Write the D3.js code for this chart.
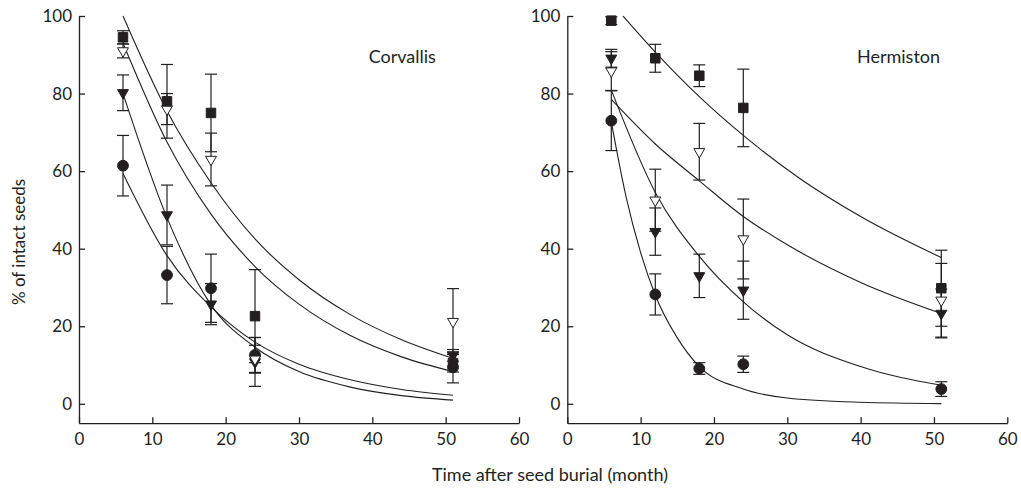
<!DOCTYPE html>
<html>
<head>
<meta charset="utf-8">
<script src="https://cdn.jsdelivr.net/npm/d3@7/dist/d3.min.js"></script>
<style>
    body { margin: 0; background: #fff; }
    text { font-family: Lato, sans-serif; fill: #231f20; }
</style>
</head>
<body>
<div id="chart-area"></div>
<script>
// months after burial where seeds were sampled
const months = [6, 12, 18, 24, 51];
const xTicks = [0, 10, 20, 30, 40, 50, 60];
const yTicks = [0, 20, 40, 60, 80, 100];

// Corvallis: means and error (±) per symbol
const corSquare = [94.5, 78, 75, 22.6, 10.5];
const corSquareErr = [1.7, 9.5, 10, 12, 2.3];
const corOpen = [91, 76, 63, 11.5, 21.2];
const corOpenErr = [1.8, 4, 6.8, 3.6, 8.5];
const corFilled = [80.2, 48.7, 25.7, 10.8, 12.5];
const corFilledErr = [4.6, 7.7, 5.3, 6.3, 1.5];
const corCircle = [61.4, 33.2, 29.8, 12.6, 9.4];
const corCircleErr = [7.8, 7.4, 8.8, 4.5, 4];

// Hermiston: means and error (±) per symbol
const herSquare = [98.8, 89.1, 84.6, 76.3, 29.8];
const herSquareErr = [1, 3.6, 2.8, 10, 9.8];
const herOpen = [85.8, 52.5, 65, 42.5, 26.7];
const herOpenErr = [5, 8, 7.3, 10.3, 9.5];
const herFilled = [89.1, 44.4, 33, 29.3, 23.3];
const herFilledErr = [2.3, 6.1, 5.6, 7.5, 6.3];
const herCircle = [73, 28.2, 9.1, 10.2, 3.8];
const herCircleErr = [7.7, 5.3, 1.5, 2.1, 1.9];

// fitted curves (month, %)
const corSquareFitT = [6, 12, 18, 24, 30, 37, 44, 51];
const corSquareFit = [100, 75.5, 57, 42.5, 32, 23, 16.5, 11.7];
const corOpenFitT = [6, 12, 18, 24, 30, 37, 44, 51];
const corOpenFit = [93, 67.5, 48.9, 35.4, 25.7, 17.6, 12.1, 8.3];
const corFilledFitT = [6, 12, 18, 24, 30, 37, 44, 51];
const corFilledFit = [80, 48, 25.5, 14.6, 8.3, 4.3, 2.1, 0.95];
const corCircleFitT = [6, 12, 18, 24, 30, 37, 44, 51];
const corCircleFit = [59.4, 38.2, 25, 15.9, 10.2, 6.2, 3.7, 2.2];

const herSquareFitT = [7.6, 12, 18, 24, 31.7, 40, 51];
const herSquareFit = [100, 90.7, 79.2, 69.2, 58.1, 48.3, 37.7];
const herOpenFitT = [6, 12, 18, 24, 30, 40, 51];
const herOpenFit = [78.5, 67, 57.5, 48.3, 41, 31.3, 23.3];
const herFilledFitT = [6, 12, 18, 24, 30, 40, 51];
const herFilledFit = [80.9, 54.5, 38, 26.3, 17.8, 9.6, 4.8];
const herCircleFitT = [6, 8, 10, 12, 15, 18, 24, 30, 40, 51];
const herCircleFit = [72.7, 53.5, 39, 28, 17, 9.6, 3.8, 1.5, 0.4, 0.05];

const ink = '#231f20';

const svg = d3.select('#chart-area').append('svg')
    .attr('width', 1021)
    .attr('height', 488);

const y = d3.scaleLinear().domain([-5, 100]).range([423.2, 16]);

function drawPanel(left, title, series, fits) {
    const x = d3.scaleLinear().domain([0, 60]).range([left, left + 440]);
    const g = svg.append('g');

    // axes
    const ax = g.append('g')
        .attr('transform', `translate(0, ${y(-5)})`)
        .call(d3.axisBottom(x).tickValues(xTicks).tickSizeInner(-6).tickSizeOuter(0).tickPadding(10));
    const ay = g.append('g')
        .attr('transform', `translate(${left}, 0)`)
        .call(d3.axisLeft(y).tickValues(yTicks).tickSizeInner(-6).tickSizeOuter(0).tickPadding(7));
    [ax, ay].forEach(a => {
        a.attr('color', ink).attr('font-family', 'Lato, sans-serif').attr('font-size', 17);
        a.selectAll('path, line').attr('stroke-width', 1.3);
    });

    // fitted curves
    const line = d3.line()
        .x(d => x(d[0]))
        .y(d => y(d[1]))
        .curve(d3.curveMonotoneX);
    fits.forEach(f => {
        g.append('path')
            .datum(f.t.map((t, i) => [t, f.v[i]]))
            .attr('d', line)
            .attr('fill', 'none')
            .attr('stroke', ink)
            .attr('stroke-width', 1.1);
    });

    // error bars
    series.forEach(s => {
        const rows = months.map((m, i) => ({ m, v: s.v[i], e: s.e[i] }));
        const eb = g.append('g').attr('stroke', ink).attr('stroke-width', 1.2);
        eb.selectAll('.stem').data(rows).enter().append('line')
            .attr('x1', d => x(d.m)).attr('x2', d => x(d.m))
            .attr('y1', d => y(d.v - d.e)).attr('y2', d => y(d.v + d.e));
        eb.selectAll('.capTop').data(rows).enter().append('line')
            .attr('x1', d => x(d.m) - 6).attr('x2', d => x(d.m) + 6)
            .attr('y1', d => y(d.v + d.e)).attr('y2', d => y(d.v + d.e));
        eb.selectAll('.capBottom').data(rows).enter().append('line')
            .attr('x1', d => x(d.m) - 6).attr('x2', d => x(d.m) + 6)
            .attr('y1', d => y(d.v - d.e)).attr('y2', d => y(d.v - d.e));
    });

    // markers
    series.forEach(s => {
        g.selectAll(null)
            .data(months.map((m, i) => ({ m, v: s.v[i] })))
            .enter()
            .append('path')
            .attr('d', d3.symbol(s.shape, s.size))
            .attr('transform', d => `translate(${x(d.m)}, ${y(d.v)}) rotate(${s.rotate})`)
            .attr('fill', s.fill)
            .attr('stroke', ink)
            .attr('stroke-width', 1);
    });

    // site name
    g.append('text')
        .attr('x', x(39.5))
        .attr('y', 63)
        .attr('font-size', 18)
        .text(title);
}

function makeSeries(circle, circleErr, filled, filledErr, open, openErr, square, squareErr) {
    return [
        { v: circle, e: circleErr, shape: d3.symbolCircle, size: 92, rotate: 0, fill: ink },
        { v: filled, e: filledErr, shape: d3.symbolTriangle, size: 52, rotate: 180, fill: ink },
        { v: open, e: openErr, shape: d3.symbolTriangle, size: 52, rotate: 180, fill: '#fff' },
        { v: square, e: squareErr, shape: d3.symbolSquare, size: 90, rotate: 0, fill: ink }
    ];
}

drawPanel(79, 'Corvallis',
    makeSeries(corCircle, corCircleErr, corFilled, corFilledErr, corOpen, corOpenErr, corSquare, corSquareErr),
    [
        { t: corSquareFitT, v: corSquareFit },
        { t: corOpenFitT, v: corOpenFit },
        { t: corFilledFitT, v: corFilledFit },
        { t: corCircleFitT, v: corCircleFit }
    ]);

drawPanel(567.3, 'Hermiston',
    makeSeries(herCircle, herCircleErr, herFilled, herFilledErr, herOpen, herOpenErr, herSquare, herSquareErr),
    [
        { t: herSquareFitT, v: herSquareFit },
        { t: herOpenFitT, v: herOpenFit },
        { t: herFilledFitT, v: herFilledFit },
        { t: herCircleFitT, v: herCircleFit }
    ]);

// axis titles
svg.append('text')
    .attr('x', 550)
    .attr('y', 481)
    .attr('text-anchor', 'middle')
    .attr('font-size', 18)
    .text('Time after seed burial (month)');

svg.append('text')
    .attr('transform', 'translate(25, 242) rotate(-90)')
    .attr('text-anchor', 'middle')
    .attr('font-size', 17)
    .text('% of intact seeds');
</script>
</body>
</html>
